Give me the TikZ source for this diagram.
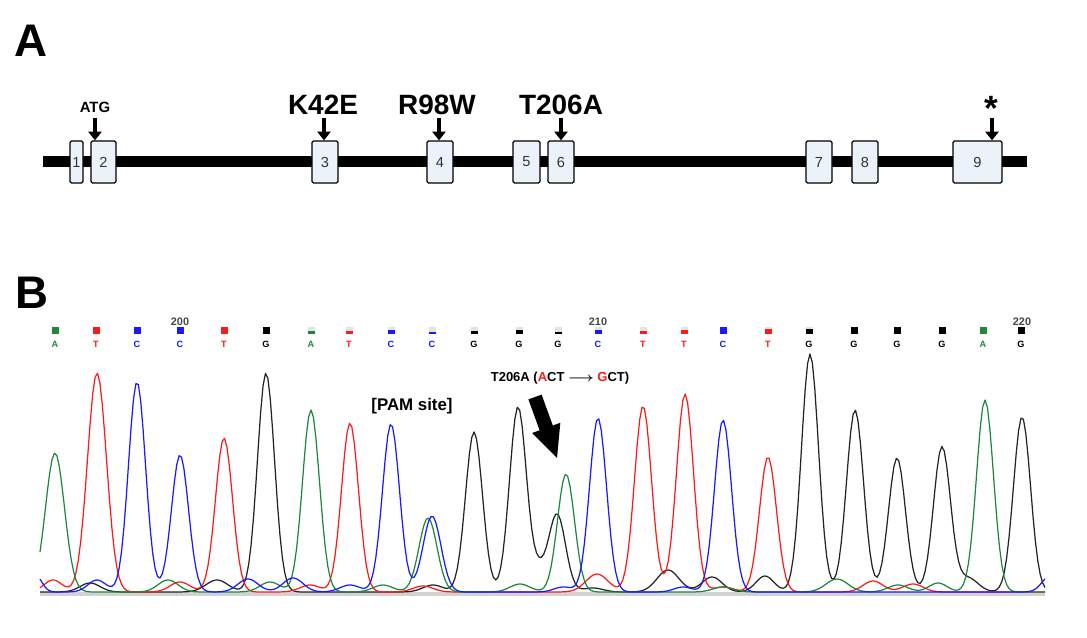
\documentclass[tikz,border=0pt]{standalone}
\usepackage{fontspec}
\setmainfont{Liberation Sans}
\usetikzlibrary{arrows.meta}
\definecolor{exonfill}{RGB}{236,242,250}
\definecolor{tgreen}{RGB}{30,135,60}
\definecolor{tred}{RGB}{255,25,25}
\definecolor{tblue}{RGB}{25,25,255}
\definecolor{tblack}{RGB}{35,35,35}
\definecolor{numgray}{RGB}{70,70,70}
\newcommand\basecall[5]{%
  \fill[gray!22] ({#2-3.5},327) rectangle ({#2+3.5},334);
  \fill[#3] ({#2-3.5},{334-7*#5}) rectangle ({#2+3.5},334);
  \node[seqlet,text=#3] (#1) at (#2,347) {#4};}
\begin{document}
\begin{tikzpicture}[x=0.02cm,y=-0.02cm,
  declare function={g(\gd,\gh,\gs)=\gh*exp(-0.5*min(abs(\gd/\gs),7)*min(abs(\gd/\gs),7));},
  panel/.style={font=\fontsize{26}{26}\selectfont\bfseries,anchor=base,inner sep=0pt},
  mut/.style={font=\fontsize{15.9}{16}\selectfont\bfseries,anchor=base,inner sep=0pt},
  atg/.style={font=\fontsize{8.5}{9}\selectfont\bfseries,anchor=base,inner sep=0pt},
  exon/.style={draw=black,line width=0.7pt,fill=exonfill,rounded corners=0.8pt,inner sep=0pt,
    minimum height=0.84cm,font=\fontsize{8.3}{8}\selectfont,text=black!80},
  darr/.style={line width=2.3pt,-{Triangle[length=5pt,width=7.5pt]}},
  seqlet/.style={font=\fontsize{5.2}{5}\selectfont\bfseries,anchor=base,inner sep=0pt},
  posnum/.style={font=\fontsize{6.2}{6}\selectfont\bfseries,text=numgray,anchor=base,inner sep=0pt},
  trace/.style={line width=0.7pt,line join=round},
  lab/.style={font=\fontsize{7.4}{8}\selectfont\bfseries,anchor=base,inner sep=0pt},
  pam/.style={font=\fontsize{9.6}{10}\selectfont\bfseries,anchor=base,inner sep=0pt}]
\useasboundingbox (0,0) rectangle (1087,638);
% ---------------- Panel A ----------------
\node[panel] (pA) at (31,57) {A};
\fill (43,156) rectangle (1027,167);
\node[exon,minimum width=0.26cm] (b1) at (76.5,162) {1};
\node[exon,minimum width=0.50cm] (b2) at (103.5,162) {2};
\node[exon,minimum width=0.52cm] (b3) at (325,162) {3};
\node[exon,minimum width=0.52cm] (b4) at (440,162) {4};
\node[exon,minimum width=0.54cm] (b5) at (526.5,162) {5};
\node[exon,minimum width=0.52cm] (b6) at (561,162) {6};
\node[exon,minimum width=0.52cm] (b7) at (819,162) {7};
\node[exon,minimum width=0.52cm] (b8) at (865,162) {8};
\node[exon,minimum width=0.98cm] (b9) at (977.5,162) {9};
\node[atg] (latg) at (95,113) {ATG};
\node[mut] (lk) at (323,115) {K42E};
\node[mut] (lr) at (437,115) {R98W};
\node[mut] (lt) at (561,115) {T206A};
\node[font=\fontsize{20}{20}\selectfont\bfseries,anchor=base,inner sep=0pt] (lstar) at (991,121) {*};
\coordinate (a2) at (95,118);
\coordinate (a3) at (324,118);
\coordinate (a4) at (439,118);
\coordinate (a6) at (561,118);
\coordinate (a9) at (992,118);
\draw[darr] (a2) -- (a2 |- b2.north);
\draw[darr] (a3) -- (a3 |- b3.north);
\draw[darr] (a4) -- (a4 |- b4.north);
\draw[darr] (a6) -- (a6 |- b6.north);
\draw[darr] (a9) -- (a9 |- b9.north);
% ---------------- Panel B ----------------
\node[panel] (pB) at (32,308) {B};
\node[posnum] (n200) at (180,325) {200};
\node[posnum] (n210) at (598,325) {210};
\node[posnum] (n220) at (1022,325) {220};
\basecall{s1}{55}{tgreen}{A}{1}
\basecall{s2}{96}{tred}{T}{1}
\basecall{s3}{137}{tblue}{C}{1}
\basecall{s4}{180}{tblue}{C}{1}
\basecall{s5}{224}{tred}{T}{1}
\basecall{s6}{266}{black}{G}{1}
\basecall{s7}{311}{tgreen}{A}{0.5}
\basecall{s8}{349}{tred}{T}{0.5}
\basecall{s9}{391}{tblue}{C}{0.6}
\basecall{s10}{432}{tblue}{C}{0.3}
\basecall{s11}{474}{black}{G}{0.5}
\basecall{s12}{519}{black}{G}{0.55}
\basecall{s13}{558}{black}{G}{0.3}
\basecall{s14}{598}{tblue}{C}{0.55}
\basecall{s15}{643}{tred}{T}{0.5}
\basecall{s16}{684}{tred}{T}{0.6}
\basecall{s17}{723}{tblue}{C}{1}
\basecall{s18}{768}{tred}{T}{0.65}
\basecall{s19}{809}{black}{G}{0.65}
\basecall{s20}{854}{black}{G}{1}
\basecall{s21}{897}{black}{G}{1}
\basecall{s22}{942}{black}{G}{1}
\basecall{s23}{983}{tgreen}{A}{1}
\basecall{s24}{1021}{black}{G}{1}
% baseline band
\draw[gray!35,line width=2.2pt] (40,594) -- (1045,594);
% traces
\draw[trace,tblack] plot[domain=40:1045,samples=420] (\x,{592-(g(\x-266,219,8.5)+g(\x-474,160,8.5)+g(\x-518,185,8.5)+g(\x-557,78,8.5)+g(\x-538,18,7)+g(\x-810,238,8.5)+g(\x-855,182,8.5)+g(\x-897,134,8.5)+g(\x-942,145,8.5)+g(\x-1022,175,8.5)+g(\x-90,9,10)+g(\x-217,12,11)+g(\x-433,7,10)+g(\x-593,4,10)+g(\x-668,22,11)+g(\x-712,15,10)+g(\x-765,16,9)+g(\x-968,14,10))});
\draw[trace,tred] plot[domain=40:1045,samples=420] (\x,{592-(g(\x-97,219,9.5)+g(\x-224,154,8.5)+g(\x-350,169,8.5)+g(\x-643,186,8.5)+g(\x-685,198,8.5)+g(\x-768,135,8.5)+g(\x-53,12,9)+g(\x-180,10,10)+g(\x-310,7,10)+g(\x-423,6,10)+g(\x-597,18,11)+g(\x-723,5,10)+g(\x-873,11,10)+g(\x-913,8,10))});
\draw[trace,tgreen] plot[domain=40:1045,samples=420] (\x,{592-(g(\x-55,139,9.5)+g(\x-311,182,8.5)+g(\x-428,74,9)+g(\x-566,118,8.5)+g(\x-985,192,8.5)+g(\x-168,12,10)+g(\x-270,10,10)+g(\x-383,7,10)+g(\x-520,8,10)+g(\x-723,5,10)+g(\x-837,13,11)+g(\x-898,7,10)+g(\x-938,9,9))});
\draw[trace,tblue] plot[domain=40:1045,samples=420] (\x,{592-(g(\x-137,210,8.5)+g(\x-180,137,8.5)+g(\x-391,168,8.5)+g(\x-432,76,9)+g(\x-598,174,8.5)+g(\x-723,172,8.5)+g(\x-36,16,6)+g(\x-97,12,9)+g(\x-248,13,10)+g(\x-293,14,10)+g(\x-350,7,10)+g(\x-563,5,9)+g(\x-683,5,9)+g(\x-1050,16,8))});
% labels
\node[pam] (lpam) at (412,410) {[PAM site]};
\node[lab] (lmut) at (560,381) {T206A (\textcolor{tred}{A}CT {\boldmath$\longrightarrow$} \textcolor{tred}{G}CT)};
\fill[black] (528.4,399.4) -- (539.6,430.3) -- (532.1,433.0) -- (557,458) -- (560.3,422.8) -- (552.8,425.5) -- (541.6,394.6) -- cycle;
\end{tikzpicture}
\end{document}
